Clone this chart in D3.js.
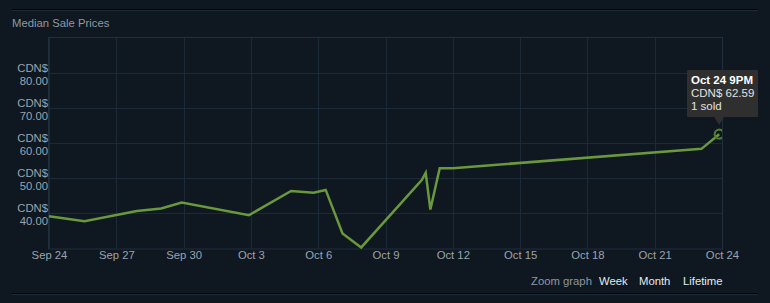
<!DOCTYPE html>
<html><head><meta charset="utf-8">
<script src="https://cdn.jsdelivr.net/npm/d3@7"></script>
<style>
html,body{margin:0;padding:0;background:#0f1720;}
svg{display:block;font-family:Arial,"Liberation Sans",sans-serif;}
</style></head>
<body><svg id="c" width="770" height="303"></svg>
<script>
// Data: sale timestamps and median prices (CDN$)
const saleTimes = [
  "2023-09-25T00:00","2023-09-26T14:00","2023-09-28T22:00","2023-09-30T00:00",
  "2023-09-30T22:00","2023-10-03T22:00","2023-10-05T19:00","2023-10-06T19:00",
  "2023-10-07T08:00","2023-10-08T02:00","2023-10-08T22:00","2023-10-11T15:00",
  "2023-10-11T19:00","2023-10-12T00:00","2023-10-12T10:00","2023-10-13T00:00",
  "2023-10-24T02:00","2023-10-24T21:00"
];
const salePrices = [39.2,37.8,40.7,41.4,43.1,39.5,46.4,45.9,46.7,34.3,30.3,49.6,51.6,41.1,52.9,52.9,58.4,62.59];
// tick labels; each tick sits at the end (midnight) of its labelled day
const xTickDates = ["2023-09-24","2023-09-27","2023-09-30","2023-10-03","2023-10-06","2023-10-09","2023-10-12","2023-10-15","2023-10-18","2023-10-21","2023-10-24"];
const yTickValues = [40,50,60,70,80];
const yDomain = [30,90];
const zoomLabels = ["Week","Month","Lifetime"];
const tooltipLines = ["Oct 24 9PM","CDN$ 62.59","1 sold"];

const parse = d3.timeParse("%Y-%m-%dT%H:%M");
const parseDay = d3.timeParse("%Y-%m-%d");
const data = saleTimes.map((t,i)=>({t:parse(t), v:salePrices[i]}));
const tickDays = xTickDates.map(parseDay);
const ticks = tickDays.map(d=>d3.timeDay.offset(d,1));
const fmt = d3.timeFormat("%b %-d");

const svg = d3.select("#c");
const L=49, R=722, T=38, B=248.5;
const x = d3.scaleTime().domain([ticks[0], ticks[ticks.length-1]]).range([L,R]);
const y = d3.scaleLinear().domain(yDomain).range([B,T]);

svg.append("defs").append("clipPath").attr("id","plotclip")
  .append("rect").attr("x",L).attr("y",T).attr("width",R-L).attr("height",B-T);

// frame lines
svg.append("line").attr("x1",12).attr("x2",758).attr("y1",9.5).attr("y2",9.5).attr("stroke","#000").attr("stroke-width",1);
svg.append("line").attr("x1",12).attr("x2",758).attr("y1",10.5).attr("y2",10.5).attr("stroke","#1d2b38").attr("stroke-width",1);
svg.append("line").attr("x1",12).attr("x2",758).attr("y1",293.5).attr("y2",293.5).attr("stroke","#000").attr("stroke-width",1);
svg.append("line").attr("x1",12).attr("x2",758).attr("y1",294.5).attr("y2",294.5).attr("stroke","#1d2b38").attr("stroke-width",1);

svg.append("text").attr("x",12).attr("y",27).attr("fill","#8f98a0").attr("font-size","11.3px").text("Median Sale Prices");

// grid
const grid = svg.append("g");
grid.selectAll(".vg").data(ticks).join("line")
  .attr("x1",d=>Math.round(x(d))+0.5).attr("x2",d=>Math.round(x(d))+0.5)
  .attr("y1",T).attr("y2",B).attr("stroke","#1c2a37").attr("stroke-width",1);
grid.selectAll(".hg").data(yTickValues).join("line")
  .attr("x1",L).attr("x2",R).attr("y1",d=>Math.round(y(d))+0.5).attr("y2",d=>Math.round(y(d))+0.5)
  .attr("stroke","#1c2a37").attr("stroke-width",1);
svg.append("rect").attr("x",L-0.5).attr("y",T-0.5).attr("width",R-L+1).attr("height",B-T+1)
  .attr("fill","none").attr("stroke","#1e2f3e").attr("stroke-width",1);

// x axis
const xAxis = d3.axisBottom(x).tickValues(ticks).tickFormat(d=>fmt(d3.timeDay.offset(d,-1))).tickSize(0).tickPadding(0);
const gx = svg.append("g").attr("transform",`translate(0,${B})`).call(xAxis);
gx.select(".domain").remove();
gx.selectAll("text").attr("fill","#9aa4ae").attr("font-size","11.3px").attr("dy","10.5px").attr("font-family","Arial,'Liberation Sans',sans-serif");

// y axis (two-line labels)
const yAxis = d3.axisLeft(y).tickValues(yTickValues).tickSize(0).tickPadding(0).tickFormat(()=>"");
const gy = svg.append("g").attr("transform",`translate(${L-1},0)`).call(yAxis);
gy.select(".domain").remove();
gy.selectAll(".tick text").each(function(d){
  const t = d3.select(this).attr("fill","#9aa4ae").attr("font-size","11.3px").attr("text-anchor","end")
    .attr("font-family","Arial,'Liberation Sans',sans-serif").attr("dy",null).attr("y",0);
  t.append("tspan").attr("x",0).attr("y",-1.8).text("CDN$");
  t.append("tspan").attr("x",0).attr("y",11).text(d3.format(".2f")(d));
});

// line
const line = d3.line().x(d=>x(d.t)).y(d=>y(d.v));
svg.append("path").datum(data).attr("d",line).attr("fill","none")
  .attr("stroke","#6a983c").attr("stroke-width",2.5).attr("stroke-linejoin","miter");

// highlight point (clipped to plot area)
const last = data[data.length-1];
svg.append("circle").attr("clip-path","url(#plotclip)").attr("cx",x(last.t)).attr("cy",y(last.v)).attr("r",4.5)
  .attr("fill","none").attr("stroke","#4f7a2f").attr("stroke-width",2.2);

// tooltip
const px = x(last.t);
const tip = svg.append("g");
const bx = 687, by = 70, bw = 71, bh = 47;
tip.append("rect").attr("x",bx).attr("y",by).attr("width",bw).attr("height",bh).attr("fill","#2f2f2f").attr("rx",1);
tip.append("path").attr("d",`M${px-5},${by+bh} L${px},${by+bh+8} L${px+5},${by+bh} Z`).attr("fill","#2f2f2f");
tip.selectAll("text").data(tooltipLines).join("text")
  .attr("x",bx+4).attr("y",(d,i)=>84+i*13)
  .attr("fill",(d,i)=>i===0?"#ffffff":"#e2e2e2")
  .attr("font-weight",(d,i)=>i===0?"bold":"normal")
  .attr("font-size","11.5px").text(d=>d);

// zoom controls
svg.append("text").attr("x",531).attr("y",285).attr("fill","#8f98a0").attr("font-size","11.3px").text("Zoom graph");
const zx = [599,639,683];
svg.selectAll(".zl").data(zoomLabels).join("text")
  .attr("x",(d,i)=>zx[i]).attr("y",285).attr("fill","#e6ebef").attr("font-size","11.3px").text(d=>d);
</script></body></html>
